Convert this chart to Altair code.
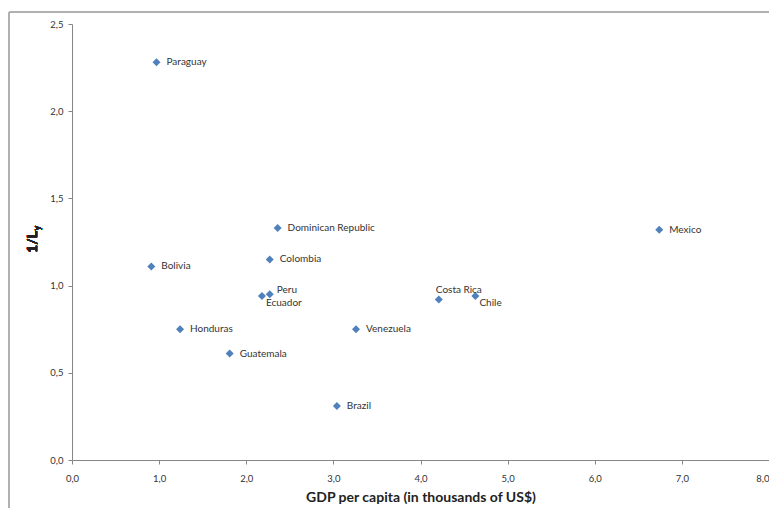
import altair as alt
import pandas as pd

countries = ["Paraguay", "Bolivia", "Honduras", "Guatemala", "Ecuador", "Peru",
             "Colombia", "Dominican Republic", "Brazil", "Venezuela",
             "Costa Rica", "Chile", "Mexico"]
gdp = [0.97, 0.91, 1.24, 1.81, 2.18, 2.27, 2.27, 2.36, 3.04, 3.26, 4.21, 4.63, 6.74]
inv_ly = [2.28, 1.11, 0.75, 0.61, 0.94, 0.95, 1.15, 1.33, 0.31, 0.75, 0.92, 0.94, 1.32]

df = pd.DataFrame({"country": countries, "gdp": gdp, "ly": inv_ly})

FONT = "Lato"
BLUE = "#4F81BD"
W, H = 697, 436
COMMA = "replace(format(datum.value, '.1f'), '.', ',')"

xs = alt.X("gdp:Q", scale=alt.Scale(domain=[0, 8], nice=False),
           axis=alt.Axis(values=[0, 1, 2, 3, 4, 5, 6, 7, 8], labelExpr=COMMA,
                         labelFlush=False, labelBound=False, labelOverlap=False,
                         labelAlign={"condition": {"test": "datum.value == 8", "value": "right"},
                                     "value": "center"},
                         title="GDP per capita (in thousands of US$)",
                         grid=False, domainColor="#868686", tickColor="#868686",
                         tickSize=4, labelPadding=9, labelFontSize=9.5,
                         labelColor="#333333", labelFont=FONT,
                         titleFont=FONT, titleFontSize=14, titleFontWeight="bold",
                         titleColor="#222222", titlePadding=8))
ys = alt.Y("ly:Q", scale=alt.Scale(domain=[0, 2.5], nice=False),
           axis=alt.Axis(values=[0, 0.5, 1, 1.5, 2, 2.5], labelExpr=COMMA, title=None,
                         labelFlush=False, labelBound=False, labelOverlap=False,
                         grid=False, domainColor="#868686", tickColor="#868686",
                         tickSize=4, labelPadding=5, labelFontSize=9.5,
                         labelColor="#333333", labelFont=FONT))

base = alt.Chart(df)

frame_top = base.mark_rule(stroke="#b0b0b0", strokeWidth=1).encode(
    x=alt.value(-63), x2=alt.value(W + 400), y=alt.value(-12)
)
frame_left = base.mark_rule(stroke="#b0b0b0", strokeWidth=1).encode(
    x=alt.value(-63), y=alt.value(-12), y2=alt.value(H + 400)
)

points = base.mark_point(shape="diamond", filled=True, size=64, color=BLUE, opacity=1).encode(
    x=xs, y=ys
)

special = ["Peru", "Ecuador", "Costa Rica", "Chile"]

def labels(filter_expr, **kw):
    return base.transform_filter(filter_expr).mark_text(
        font=FONT, fontSize=10, color="#333333", align="left", baseline="middle", **kw
    ).encode(x="gdp:Q", y="ly:Q", text="country:N")

lab_default = labels("indexof(%s, datum.country) < 0" % str(special).replace("'", '"'), dx=10)
lab_peru = labels("datum.country == 'Peru'", dx=7, dy=-4)
lab_ecu = labels("datum.country == 'Ecuador'", dx=4, dy=7)
lab_cr = labels("datum.country == 'Costa Rica'", dx=-3, dy=-10)
lab_chile = labels("datum.country == 'Chile'", dx=4, dy=7)

ytitle = base.mark_text(text="1/L", angle=270, font=FONT, fontSize=14,
                        fontWeight="bold", color="#222222", align="center",
                        baseline="middle").encode(x=alt.value(-39), y=alt.value(218))
ysub = base.mark_text(text="y", angle=270, font=FONT, fontSize=9,
                      fontWeight="bold", color="#222222", align="center",
                      baseline="middle").encode(x=alt.value(-35), y=alt.value(204))

chart = alt.layer(frame_top, frame_left, points, lab_default, lab_peru, lab_ecu,
                  lab_cr, lab_chile, ytitle, ysub).properties(
    width=W, height=H,
    autosize=alt.AutoSizeParams(type="none"),
    padding={"left": 64, "top": 16, "right": 0, "bottom": 48},
).configure_view(stroke=None).configure_axis(labelFont=FONT)

chart.save("out.html", embed_options={"renderer": "svg", "actions": False})
